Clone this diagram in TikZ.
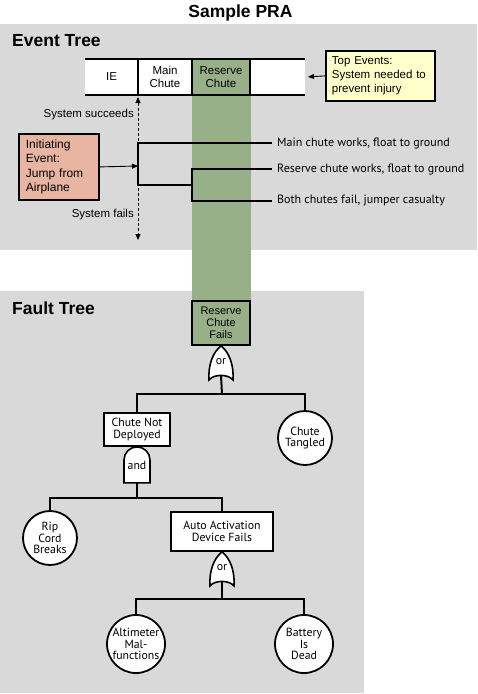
\documentclass[tikz,border=0pt]{standalone}
\usepackage{fontspec}
\setmainfont{Liberation Sans}
\newfontfamily\myriad{PT Sans}
\usetikzlibrary{positioning, arrows.meta, calc}
\definecolor{panelgray}{RGB}{217,217,217}
\definecolor{chutegreen}{RGB}{151,176,136}
\definecolor{initred}{RGB}{232,181,163}
\definecolor{topyellow}{RGB}{255,255,204}

\newcommand{\orgate}[2]{%
  \node[orbox, #2] (#1) {};
  \draw[gateline] (#1.south west) .. controls +(-1,-15) and +(-8,6) .. (#1.north)
    .. controls +(8,6) and +(1,-15) .. (#1.south east)
    .. controls +(-5,-6) and +(5,-6) .. (#1.south west) -- cycle;
  \node[gatetext] (#1t) at ($(#1.center)+(0,-1)$) {or};
  \coordinate (#1out) at ($(#1.south)+(0,-4.5)$);
}
\newcommand{\andgate}[2]{%
  \node[andbox, #2] (#1) {};
  \draw[gateline] (#1.south west) -- ++(0,-23) arc[start angle=180, end angle=360, radius=13]
    -- (#1.south east) -- cycle;
  \node[gatetext] (#1t) at ($(#1.center)+(0,1)$) {and};
}

\begin{document}
\begin{tikzpicture}[x=1pt, y=-1pt,
  bigtitle/.style={font=\fontsize{17.5}{20}\bfseries, inner sep=0pt},
  cell/.style={minimum width=#1, minimum height=36pt, inner sep=0pt, outer sep=0pt,
    align=center, font=\fontsize{11.5}{13}\selectfont},
  tline/.style={line width=2pt},
  gateline/.style={line width=1.6pt, fill=white},
  arrowline/.style={line width=0.9pt, -{Triangle[length=6pt, width=5pt]}},
  orbox/.style={minimum width=24pt, minimum height=34pt, inner sep=0pt, outer sep=0pt},
  andbox/.style={minimum width=26pt, minimum height=36pt, inner sep=0pt, outer sep=0pt},
  gatetext/.style={font=\myriad\fontsize{11.8}{12}\selectfont, inner sep=0pt},
  outlabel/.style={font=\myriad\fontsize{12}{13}\selectfont, inner sep=0pt, anchor=west},
  ftbox/.style={draw, line width=1.8pt, fill=white, inner sep=0pt, align=center,
    font=\myriad\fontsize{11.8}{11.7}\selectfont},
  ftcirc/.style={circle, draw, line width=1.8pt, fill=white, inner sep=0pt, align=center,
    minimum size=#1, font=\myriad\fontsize{11.8}{11.7}\selectfont}]
  \useasboundingbox (0,0) rectangle (478,694);

  \fill[panelgray] (0,24) rectangle (477,250);
  \fill[panelgray] (0,291) rectangle (364,693);
  \fill[chutegreen] (192,59) rectangle (251,301);

  \node[bigtitle, anchor=base] (title) at (240.5,17) {Sample PRA};
  \node[bigtitle, anchor=base west] (ettitle) at (12,46) {Event Tree};
  \node[bigtitle, anchor=base west] (fttitle) at (12,314.5) {Fault Tree};

  \node[cell=53pt, fill=white] (ie) at (111.5,77) {IE};
  \node[cell=54pt, fill=white, right=0pt of ie] (mainc) {Main\\Chute};
  \node[cell=58pt, fill=chutegreen, right=0pt of mainc] (resc) {Reserve\\Chute};
  \node[cell=55pt, fill=white, right=0pt of resc] (blank) {};
  \draw[tline] (ie.north west) -- (blank.north east);
  \draw[tline] (ie.south west) -- (blank.south east);
  \draw[tline] (ie.north east) -- (ie.south east);
  \draw[tline] (mainc.north east) -- (mainc.south east);
  \draw[tline] (resc.north east) -- (resc.south east);

  \node[draw, line width=1.8pt, fill=topyellow, anchor=north west, text width=97pt,
    inner xsep=6pt, minimum height=50pt, align=left,
    font=\fontsize{11.5}{14}\selectfont] (topev) at (325,50)
    {Top Events:\\System needed to\\prevent injury};
  \draw[arrowline, shorten >=3pt] (topev.west) -- (blank.east);

  \coordinate (fails) at (138,240);
  \draw[line width=0.9pt, dash pattern=on 3pt off 2pt,
    {Triangle[length=6pt, width=5pt]}-{Triangle[length=6pt, width=5pt]}]
    ($(ie.south east)+(0,2)$) -- (fails);
  \node[font=\fontsize{11.5}{13}\selectfont, anchor=east, inner sep=0pt] (succ) at (134,115) {System succeeds};
  \node[font=\fontsize{11.5}{13}\selectfont, anchor=east, inner sep=0pt] (fail) at (134,215) {System fails};

  \node[draw, line width=1.8pt, fill=initred, anchor=north west, text width=66pt,
    inner xsep=7pt, minimum height=66pt, align=left,
    font=\fontsize{12}{14.3}\selectfont] (init) at (18,133)
    {Initiating\\Event:\\Jump from\\Airplane};
  \coordinate (br0) at (138,166);
  \coordinate (br1) at (192,185);
  \draw[arrowline] (init.east) -- (br0);

  \node[outlabel] (out1) at (277,143) {Main chute works, float to ground};
  \node[outlabel] (out2) at (277,169) {Reserve chute works, float to ground};
  \node[outlabel] (out3) at (277,201) {Both chutes fail, jumper casualty};
  \draw[tline] ($(out1.west)+(-5,0)$) -| (br0) |- (br1);
  \draw[tline] ($(out2.west)+(-5,0)$) -| (br1) |- ($(out3.west)+(-5,0)$);

  \node[draw, line width=1.8pt, fill=chutegreen, minimum width=58pt, minimum height=44pt,
    inner sep=0pt, align=center, font=\fontsize{11}{12}\selectfont] (rfail) at (221,323)
    {Reserve\\Chute\\Fails};
  \orgate{or1}{below=0pt of rfail}
  \coordinate (bar1) at (222,394);
  \node[ftbox, minimum width=66pt, minimum height=33pt] (notdep) at (137,429.5) {Chute Not\\Deployed};
  \node[ftcirc=54pt] (tangled) at (305,438) {Chute\\Tangled};
  \draw[tline] (or1out) -- (bar1);
  \draw[tline] (notdep.north) |- (bar1) -| (tangled.north);

  \andgate{and1}{below=0pt of notdep}
  \coordinate (bar2) at (137,498);
  \node[ftcirc=54pt] (ripcord) at (50,538) {Rip\\Cord\\Breaks};
  \node[ftbox, minimum width=102pt, minimum height=39pt] (aad) at (222,531.5) {Auto Activation\\Device Fails};
  \draw[tline] (and1.south) -- (bar2);
  \draw[tline] (ripcord.north) |- (bar2) -| (aad.north);

  \orgate{or2}{below=0pt of aad}
  \coordinate (bar3) at (222,599);
  \node[ftcirc=58pt] (altim) at (136,644) {Altimeter\\Mal-\\functions};
  \node[ftcirc=58pt] (battery) at (304,644) {Battery\\Is\\Dead};
  \draw[tline] (or2out) -- (bar3);
  \draw[tline] (altim.north) |- (bar3) -| (battery.north);
\end{tikzpicture}
\end{document}
